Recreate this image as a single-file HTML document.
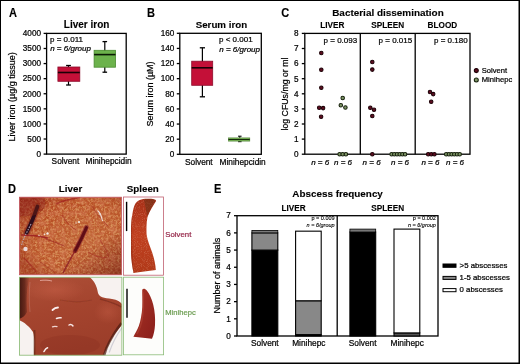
<!DOCTYPE html>
<html><head><meta charset="utf-8"><style>
html,body{margin:0;padding:0;background:#fff;}
body{width:520px;height:364px;overflow:hidden;font-family:"Liberation Sans", sans-serif;}
svg{display:block;will-change:transform;}
</style></head><body>
<svg width="520" height="364" viewBox="0 0 520 364" font-family='"Liberation Sans", sans-serif'><defs>
<linearGradient id="liv1" x1="0" y1="0" x2="0.7" y2="1">
<stop offset="0" stop-color="#a8361a"/><stop offset="0.3" stop-color="#b84e24"/><stop offset="0.7" stop-color="#bc582c"/><stop offset="1" stop-color="#ae4a26"/>
</linearGradient>
<radialGradient id="liv1b" cx="0.6" cy="0.5" r="0.65">
<stop offset="0" stop-color="#c88050" stop-opacity="0.25"/><stop offset="0.65" stop-color="#c06838" stop-opacity="0"/><stop offset="1" stop-color="#8a2010" stop-opacity="0.4"/>
</radialGradient>
<linearGradient id="liv2" x1="0" y1="0" x2="0.3" y2="1">
<stop offset="0" stop-color="#ae5038"/><stop offset="0.5" stop-color="#a4442e"/><stop offset="1" stop-color="#9c3e2a"/>
</linearGradient>
<clipPath id="clipL1"><rect x="19.5" y="197.2" width="102" height="77.6"/></clipPath>
<clipPath id="clipL2"><rect x="19.5" y="277.2" width="102.4" height="78"/></clipPath>
<clipPath id="clipS1"><path d="M133.5 272.9 C132 265 131 258 131 252 C131 244 131 235 131 227 C131.3 222 131.6 218 132.3 214.8 C133 210 133.8 207 134.8 204.8 C136 202 137.8 200.5 139.7 199.9 C142 199 144.5 198.7 147 198.7 C150 198.7 152.5 198.8 154.6 199.4 C156 199.8 156.3 200.5 155.8 201.5 C153 206 149.5 211 147.5 217 C146.5 222 146.3 229 146.6 234.5 C147.5 241 150 246 152 252 C154 258 155.5 264 155.8 270 C148 271 140 272 133.5 272.9 Z"/></clipPath>
<filter id="grain" x="0" y="0" width="100%" height="100%"><feTurbulence type="fractalNoise" baseFrequency="0.4" numOctaves="3" seed="3"/><feColorMatrix type="matrix" values="0 0 0 0 0.9  0 0 0 0 0.58  0 0 0 0 0.28  0 0 0 2.4 -1.1"/></filter>
<filter id="soft" x="-20%" y="-20%" width="140%" height="140%"><feGaussianBlur stdDeviation="0.45"/></filter>
<filter id="soft2" x="-20%" y="-20%" width="140%" height="140%"><feGaussianBlur stdDeviation="0.65"/></filter>
<filter id="blotch" x="0" y="0" width="100%" height="100%"><feTurbulence type="fractalNoise" baseFrequency="0.18" numOctaves="3" seed="5"/><feColorMatrix type="matrix" values="0 0 0 0 0.66  0 0 0 0 0.2  0 0 0 0 0.1  0 0 0 4 -1.7"/></filter>
<filter id="mottleT" x="0" y="0" width="100%" height="100%"><feTurbulence type="fractalNoise" baseFrequency="0.45" numOctaves="3" seed="21"/><feColorMatrix type="matrix" values="0 0 0 0 0.86  0 0 0 0 0.54  0 0 0 0 0.22  0 0 0 3.2 -1.35"/></filter>
<filter id="grainD" x="0" y="0" width="100%" height="100%"><feTurbulence type="fractalNoise" baseFrequency="0.45" numOctaves="2" seed="11"/><feColorMatrix type="matrix" values="0 0 0 0 0.62  0 0 0 0 0.18  0 0 0 0 0.12  0 0 0 -1.8 0.95"/></filter>
<filter id="grain2" x="0" y="0" width="100%" height="100%"><feTurbulence type="fractalNoise" baseFrequency="1.1" numOctaves="2" seed="7"/><feColorMatrix type="matrix" values="0 0 0 0 0.9  0 0 0 0 0.55  0 0 0 0 0.38  0 0 0 2.5 -1.2"/></filter>
<linearGradient id="ldark" x1="0" y1="0" x2="1" y2="0"><stop offset="0" stop-color="#3a140e" stop-opacity="0.95"/><stop offset="0.5" stop-color="#4a1a12" stop-opacity="0.7"/><stop offset="1" stop-color="#5a2218" stop-opacity="0"/></linearGradient>
<radialGradient id="llight"><stop offset="0" stop-color="#c86048" stop-opacity="0.5"/><stop offset="1" stop-color="#c86048" stop-opacity="0"/></radialGradient>
<linearGradient id="liv1c" x1="0.3" y1="0.3" x2="1" y2="1"><stop offset="0.55" stop-color="#6a2014" stop-opacity="0"/><stop offset="1" stop-color="#6a2014" stop-opacity="0.45"/></linearGradient>
<linearGradient id="spl2" x1="0" y1="0" x2="1" y2="1"><stop offset="0" stop-color="#a83426"/><stop offset="1" stop-color="#8a1e1a"/></linearGradient>
<linearGradient id="spl1" x1="0" y1="0" x2="0" y2="1">
<stop offset="0" stop-color="#a83018"/><stop offset="0.5" stop-color="#c04020"/><stop offset="1" stop-color="#b03818"/>
</linearGradient>
</defs>
<text x="0" y="0" font-size="11.4" font-weight="bold" stroke="#000" stroke-width="0.12" transform="translate(9.0,16.8) scale(0.97,1.1)">A</text>
<text x="86.6" y="28.0" font-size="10" font-weight="bold" text-anchor="middle" stroke="#000" stroke-width="0.12">Liver iron</text>
<rect x="46.6" y="33.4" width="79.6" height="120.7" fill="none" stroke="#000" stroke-width="1.3"/>
<line x1="43.6" y1="154.1" x2="46.6" y2="154.1" stroke="#000" stroke-width="1.3"/>
<text x="41.0" y="156.9" font-size="8.2" text-anchor="end" stroke="#000" stroke-width="0.22">0</text>
<line x1="43.6" y1="139.0125" x2="46.6" y2="139.0125" stroke="#000" stroke-width="1.3"/>
<text x="41.0" y="141.8125" font-size="8.2" text-anchor="end" stroke="#000" stroke-width="0.22">500</text>
<line x1="43.6" y1="123.925" x2="46.6" y2="123.925" stroke="#000" stroke-width="1.3"/>
<text x="41.0" y="126.725" font-size="8.2" text-anchor="end" stroke="#000" stroke-width="0.22">1000</text>
<line x1="43.6" y1="108.8375" x2="46.6" y2="108.8375" stroke="#000" stroke-width="1.3"/>
<text x="41.0" y="111.6375" font-size="8.2" text-anchor="end" stroke="#000" stroke-width="0.22">1500</text>
<line x1="43.6" y1="93.75" x2="46.6" y2="93.75" stroke="#000" stroke-width="1.3"/>
<text x="41.0" y="96.55" font-size="8.2" text-anchor="end" stroke="#000" stroke-width="0.22">2000</text>
<line x1="43.6" y1="78.6625" x2="46.6" y2="78.6625" stroke="#000" stroke-width="1.3"/>
<text x="41.0" y="81.46249999999999" font-size="8.2" text-anchor="end" stroke="#000" stroke-width="0.22">2500</text>
<line x1="43.6" y1="63.575" x2="46.6" y2="63.575" stroke="#000" stroke-width="1.3"/>
<text x="41.0" y="66.375" font-size="8.2" text-anchor="end" stroke="#000" stroke-width="0.22">3000</text>
<line x1="43.6" y1="48.48750000000001" x2="46.6" y2="48.48750000000001" stroke="#000" stroke-width="1.3"/>
<text x="41.0" y="51.28750000000001" font-size="8.2" text-anchor="end" stroke="#000" stroke-width="0.22">3500</text>
<line x1="43.6" y1="33.400000000000006" x2="46.6" y2="33.400000000000006" stroke="#000" stroke-width="1.3"/>
<text x="41.0" y="36.2" font-size="8.2" text-anchor="end" stroke="#000" stroke-width="0.22">4000</text>
<text x="0" y="0" font-size="9" stroke="#000" stroke-width="0.22" transform="translate(15.0,141.4) rotate(-90)">Liver iron (&#181;g/g tissue)</text>
<text x="50" y="41.8" font-size="8" stroke="#000" stroke-width="0.22">p = 0.011</text>
<text x="50.2" y="51.4" font-size="8" font-style="italic" stroke="#000" stroke-width="0.22">n = 6/group</text>
<line x1="68.5" y1="65.5" x2="68.5" y2="85" stroke="#000" stroke-width="1.2"/>
<line x1="66.1" y1="65.5" x2="70.9" y2="65.5" stroke="#000" stroke-width="1.3"/>
<line x1="66.1" y1="85" x2="70.9" y2="85" stroke="#000" stroke-width="1.3"/>
<rect x="57.9" y="67.0" width="21.9" height="14.3" fill="#c41038" stroke="#8e0c2c" stroke-width="0.8"/>
<line x1="57.9" y1="72.5" x2="79.8" y2="72.5" stroke="#1a0006" stroke-width="1.6"/>
<line x1="104.8" y1="41.6" x2="104.8" y2="72.2" stroke="#000" stroke-width="1.2"/>
<line x1="102.5" y1="41.6" x2="107.1" y2="41.6" stroke="#000" stroke-width="1.3"/>
<line x1="102.5" y1="72.2" x2="107.1" y2="72.2" stroke="#000" stroke-width="1.3"/>
<rect x="94.1" y="50.3" width="21.4" height="16.9" fill="#6cb24c" stroke="#4a8a30" stroke-width="0.8"/>
<line x1="94.1" y1="54.6" x2="115.5" y2="54.6" stroke="#0a1a04" stroke-width="1.6"/>
<text x="51.6" y="164.4" font-size="8.3" stroke="#000" stroke-width="0.22">Solvent</text>
<text x="85.5" y="164.4" font-size="8.3" stroke="#000" stroke-width="0.22">Minihepcidin</text>
<text x="0" y="0" font-size="11.4" font-weight="bold" stroke="#000" stroke-width="0.12" transform="translate(147.0,16.8) scale(0.97,1.1)">B</text>
<text x="221.4" y="27.9" font-size="9.75" font-weight="bold" text-anchor="middle" stroke="#000" stroke-width="0.12">Serum iron</text>
<rect x="179.8" y="33.3" width="81.5" height="121.0" fill="none" stroke="#000" stroke-width="1.3"/>
<line x1="176.8" y1="154.3" x2="179.8" y2="154.3" stroke="#000" stroke-width="1.3"/>
<text x="174.4" y="157.10000000000002" font-size="8.2" text-anchor="end" stroke="#000" stroke-width="0.22">0</text>
<line x1="176.8" y1="139.175" x2="179.8" y2="139.175" stroke="#000" stroke-width="1.3"/>
<text x="174.4" y="141.97500000000002" font-size="8.2" text-anchor="end" stroke="#000" stroke-width="0.22">20</text>
<line x1="176.8" y1="124.05000000000001" x2="179.8" y2="124.05000000000001" stroke="#000" stroke-width="1.3"/>
<text x="174.4" y="126.85000000000001" font-size="8.2" text-anchor="end" stroke="#000" stroke-width="0.22">40</text>
<line x1="176.8" y1="108.92500000000001" x2="179.8" y2="108.92500000000001" stroke="#000" stroke-width="1.3"/>
<text x="174.4" y="111.72500000000001" font-size="8.2" text-anchor="end" stroke="#000" stroke-width="0.22">60</text>
<line x1="176.8" y1="93.80000000000001" x2="179.8" y2="93.80000000000001" stroke="#000" stroke-width="1.3"/>
<text x="174.4" y="96.60000000000001" font-size="8.2" text-anchor="end" stroke="#000" stroke-width="0.22">80</text>
<line x1="176.8" y1="78.675" x2="179.8" y2="78.675" stroke="#000" stroke-width="1.3"/>
<text x="174.4" y="81.475" font-size="8.2" text-anchor="end" stroke="#000" stroke-width="0.22">100</text>
<line x1="176.8" y1="63.55" x2="179.8" y2="63.55" stroke="#000" stroke-width="1.3"/>
<text x="174.4" y="66.35" font-size="8.2" text-anchor="end" stroke="#000" stroke-width="0.22">120</text>
<line x1="176.8" y1="48.425" x2="179.8" y2="48.425" stroke="#000" stroke-width="1.3"/>
<text x="174.4" y="51.224999999999994" font-size="8.2" text-anchor="end" stroke="#000" stroke-width="0.22">140</text>
<line x1="176.8" y1="33.3" x2="179.8" y2="33.3" stroke="#000" stroke-width="1.3"/>
<text x="174.4" y="36.099999999999994" font-size="8.2" text-anchor="end" stroke="#000" stroke-width="0.22">160</text>
<text x="0" y="0" font-size="9" stroke="#000" stroke-width="0.22" transform="translate(153.2,126.6) rotate(-90)">Serum iron (&#181;M)</text>
<text x="219" y="42.0" font-size="8" stroke="#000" stroke-width="0.22">p &lt; 0.001</text>
<text x="219.3" y="51.6" font-size="8" font-style="italic" stroke="#000" stroke-width="0.22">n = 6/group</text>
<line x1="202.4" y1="47.8" x2="202.4" y2="96.8" stroke="#000" stroke-width="1.2"/>
<line x1="199.8" y1="47.8" x2="205.0" y2="47.8" stroke="#000" stroke-width="1.3"/>
<line x1="199.8" y1="96.8" x2="205.0" y2="96.8" stroke="#000" stroke-width="1.3"/>
<rect x="191.7" y="61.2" width="21.0" height="24.1" fill="#c41038" stroke="#8e0c2c" stroke-width="0.8"/>
<line x1="191.7" y1="67.8" x2="212.7" y2="67.8" stroke="#1a0006" stroke-width="1.6"/>
<line x1="239.8" y1="136.2" x2="239.8" y2="141.7" stroke="#000" stroke-width="1.0"/>
<line x1="238.0" y1="136.2" x2="241.6" y2="136.2" stroke="#000" stroke-width="1.0"/>
<line x1="238.0" y1="141.7" x2="241.6" y2="141.7" stroke="#000" stroke-width="1.0"/>
<rect x="228.4" y="137.9" width="21.4" height="3.2" fill="#7cbc5a" stroke="#4a7a30" stroke-width="0.6"/>
<line x1="228.4" y1="139.5" x2="249.8" y2="139.5" stroke="#142a0a" stroke-width="1.1"/>
<text x="185.0" y="164.6" font-size="8.3" stroke="#000" stroke-width="0.22">Solvent</text>
<text x="219.6" y="164.6" font-size="8.3" stroke="#000" stroke-width="0.22">Minihepcidin</text>
<text x="0" y="0" font-size="11.4" font-weight="bold" stroke="#000" stroke-width="0.12" transform="translate(281.2,16.8) scale(0.97,1.1)">C</text>
<text x="332.2" y="15.6" font-size="9.95" font-weight="bold" stroke="#000" stroke-width="0.12">Bacterial dissemination</text>
<text x="332.4" y="28.3" font-size="8.2" font-weight="bold" text-anchor="middle" stroke="#000" stroke-width="0.12">LIVER</text>
<text x="387.7" y="28.3" font-size="8.2" font-weight="bold" text-anchor="middle" stroke="#000" stroke-width="0.12">SPLEEN</text>
<text x="442.4" y="28.3" font-size="8.2" font-weight="bold" text-anchor="middle" stroke="#000" stroke-width="0.12">BLOOD</text>
<rect x="304.8" y="33.4" width="165.2" height="120.79999999999998" fill="none" stroke="#000" stroke-width="1.3"/>
<line x1="360.3" y1="33.4" x2="360.3" y2="154.2" stroke="#000" stroke-width="1.3"/>
<line x1="415.2" y1="33.4" x2="415.2" y2="154.2" stroke="#000" stroke-width="1.3"/>
<line x1="301.8" y1="154.2" x2="304.8" y2="154.2" stroke="#000" stroke-width="1.3"/>
<text x="298.6" y="157.0" font-size="8.2" text-anchor="end" stroke="#000" stroke-width="0.22">0</text>
<line x1="301.8" y1="139.1" x2="304.8" y2="139.1" stroke="#000" stroke-width="1.3"/>
<text x="298.6" y="141.9" font-size="8.2" text-anchor="end" stroke="#000" stroke-width="0.22">1</text>
<line x1="301.8" y1="124.0" x2="304.8" y2="124.0" stroke="#000" stroke-width="1.3"/>
<text x="298.6" y="126.8" font-size="8.2" text-anchor="end" stroke="#000" stroke-width="0.22">2</text>
<line x1="301.8" y1="108.89999999999999" x2="304.8" y2="108.89999999999999" stroke="#000" stroke-width="1.3"/>
<text x="298.6" y="111.69999999999999" font-size="8.2" text-anchor="end" stroke="#000" stroke-width="0.22">3</text>
<line x1="301.8" y1="93.8" x2="304.8" y2="93.8" stroke="#000" stroke-width="1.3"/>
<text x="298.6" y="96.6" font-size="8.2" text-anchor="end" stroke="#000" stroke-width="0.22">4</text>
<line x1="301.8" y1="78.7" x2="304.8" y2="78.7" stroke="#000" stroke-width="1.3"/>
<text x="298.6" y="81.5" font-size="8.2" text-anchor="end" stroke="#000" stroke-width="0.22">5</text>
<line x1="301.8" y1="63.599999999999994" x2="304.8" y2="63.599999999999994" stroke="#000" stroke-width="1.3"/>
<text x="298.6" y="66.39999999999999" font-size="8.2" text-anchor="end" stroke="#000" stroke-width="0.22">6</text>
<line x1="301.8" y1="48.5" x2="304.8" y2="48.5" stroke="#000" stroke-width="1.3"/>
<text x="298.6" y="51.3" font-size="8.2" text-anchor="end" stroke="#000" stroke-width="0.22">7</text>
<line x1="301.8" y1="33.400000000000006" x2="304.8" y2="33.400000000000006" stroke="#000" stroke-width="1.3"/>
<text x="298.6" y="36.2" font-size="8.2" text-anchor="end" stroke="#000" stroke-width="0.22">8</text>
<text x="0" y="0" font-size="8.75" stroke="#000" stroke-width="0.22" transform="translate(287.9,130.5) rotate(-90)">log CFUs/mg or ml</text>
<text x="357.2" y="42.5" font-size="8" text-anchor="end" stroke="#000" stroke-width="0.22">p = 0.093</text>
<text x="412.2" y="42.6" font-size="8" text-anchor="end" stroke="#000" stroke-width="0.22">p = 0.015</text>
<text x="467.6" y="42.6" font-size="8" text-anchor="end" stroke="#000" stroke-width="0.22">p = 0.180</text>
<circle cx="321.3" cy="52.9" r="1.75" fill="#5e0c20" stroke="#1c0006" stroke-width="1.05"/>
<circle cx="321.3" cy="69.8" r="1.75" fill="#5e0c20" stroke="#1c0006" stroke-width="1.05"/>
<circle cx="321.3" cy="87.7" r="1.75" fill="#5e0c20" stroke="#1c0006" stroke-width="1.05"/>
<circle cx="319.2" cy="107.8" r="1.75" fill="#5e0c20" stroke="#1c0006" stroke-width="1.05"/>
<circle cx="323.1" cy="108.1" r="1.75" fill="#5e0c20" stroke="#1c0006" stroke-width="1.05"/>
<circle cx="321.1" cy="116.7" r="1.75" fill="#5e0c20" stroke="#1c0006" stroke-width="1.05"/>
<circle cx="342.7" cy="98.0" r="1.75" fill="#7e9666" stroke="#16200c" stroke-width="1.05"/>
<circle cx="340.8" cy="105.2" r="1.75" fill="#7e9666" stroke="#16200c" stroke-width="1.05"/>
<circle cx="345.4" cy="107.5" r="1.75" fill="#7e9666" stroke="#16200c" stroke-width="1.05"/>
<circle cx="339.6" cy="154.2" r="1.75" fill="#7e9666" stroke="#16200c" stroke-width="1.05"/>
<circle cx="342.7" cy="154.2" r="1.75" fill="#7e9666" stroke="#16200c" stroke-width="1.05"/>
<circle cx="345.9" cy="154.2" r="1.75" fill="#7e9666" stroke="#16200c" stroke-width="1.05"/>
<circle cx="372.3" cy="61.9" r="1.75" fill="#5e0c20" stroke="#1c0006" stroke-width="1.05"/>
<circle cx="372.3" cy="69.6" r="1.75" fill="#5e0c20" stroke="#1c0006" stroke-width="1.05"/>
<circle cx="370.3" cy="107.7" r="1.75" fill="#5e0c20" stroke="#1c0006" stroke-width="1.05"/>
<circle cx="374.0" cy="109.7" r="1.75" fill="#5e0c20" stroke="#1c0006" stroke-width="1.05"/>
<circle cx="372.3" cy="115.9" r="1.75" fill="#5e0c20" stroke="#1c0006" stroke-width="1.05"/>
<circle cx="372.3" cy="154.2" r="1.75" fill="#5e0c20" stroke="#1c0006" stroke-width="1.05"/>
<circle cx="391.6" cy="154.2" r="1.75" fill="#7e9666" stroke="#16200c" stroke-width="1.05"/>
<circle cx="394.3" cy="154.2" r="1.75" fill="#7e9666" stroke="#16200c" stroke-width="1.05"/>
<circle cx="397.0" cy="154.2" r="1.75" fill="#7e9666" stroke="#16200c" stroke-width="1.05"/>
<circle cx="399.70000000000005" cy="154.2" r="1.75" fill="#7e9666" stroke="#16200c" stroke-width="1.05"/>
<circle cx="402.40000000000003" cy="154.2" r="1.75" fill="#7e9666" stroke="#16200c" stroke-width="1.05"/>
<circle cx="405.1" cy="154.2" r="1.75" fill="#7e9666" stroke="#16200c" stroke-width="1.05"/>
<circle cx="430.0" cy="91.9" r="1.75" fill="#5e0c20" stroke="#1c0006" stroke-width="1.05"/>
<circle cx="433.2" cy="94.1" r="1.75" fill="#5e0c20" stroke="#1c0006" stroke-width="1.05"/>
<circle cx="431.2" cy="101.8" r="1.75" fill="#5e0c20" stroke="#1c0006" stroke-width="1.05"/>
<circle cx="428.2" cy="154.2" r="1.75" fill="#5e0c20" stroke="#1c0006" stroke-width="1.05"/>
<circle cx="431.3" cy="154.2" r="1.75" fill="#5e0c20" stroke="#1c0006" stroke-width="1.05"/>
<circle cx="434.4" cy="154.2" r="1.75" fill="#5e0c20" stroke="#1c0006" stroke-width="1.05"/>
<circle cx="446.2" cy="154.2" r="1.75" fill="#7e9666" stroke="#16200c" stroke-width="1.05"/>
<circle cx="448.9" cy="154.2" r="1.75" fill="#7e9666" stroke="#16200c" stroke-width="1.05"/>
<circle cx="451.59999999999997" cy="154.2" r="1.75" fill="#7e9666" stroke="#16200c" stroke-width="1.05"/>
<circle cx="454.3" cy="154.2" r="1.75" fill="#7e9666" stroke="#16200c" stroke-width="1.05"/>
<circle cx="457.0" cy="154.2" r="1.75" fill="#7e9666" stroke="#16200c" stroke-width="1.05"/>
<circle cx="459.7" cy="154.2" r="1.75" fill="#7e9666" stroke="#16200c" stroke-width="1.05"/>
<text x="311.2" y="165.2" font-size="8" font-style="italic" stroke="#000" stroke-width="0.22">n = 6</text>
<text x="334.0" y="165.2" font-size="8" font-style="italic" stroke="#000" stroke-width="0.22">n = 6</text>
<text x="362.6" y="165.2" font-size="8" font-style="italic" stroke="#000" stroke-width="0.22">n = 6</text>
<text x="391.0" y="165.2" font-size="8" font-style="italic" stroke="#000" stroke-width="0.22">n = 6</text>
<text x="421.4" y="165.2" font-size="8" font-style="italic" stroke="#000" stroke-width="0.22">n = 6</text>
<text x="446.0" y="165.2" font-size="8" font-style="italic" stroke="#000" stroke-width="0.22">n = 6</text>
<circle cx="476.3" cy="70.6" r="2.0" fill="#5e0c20" stroke="#1c0006" stroke-width="1.05"/>
<circle cx="476.3" cy="80.0" r="2.0" fill="#7e9666" stroke="#16200c" stroke-width="1.05"/>
<text x="481.8" y="73.0" font-size="7.6" stroke="#000" stroke-width="0.22">Solvent</text>
<text x="481.8" y="82.3" font-size="7.6" stroke="#000" stroke-width="0.22">Minihepc</text>
<text x="0" y="0" font-size="11.4" font-weight="bold" stroke="#000" stroke-width="0.12" transform="translate(7.9,192.5) scale(0.97,1.1)">D</text>
<text x="70.5" y="192.4" font-size="9.8" font-weight="bold" text-anchor="middle" stroke="#000" stroke-width="0.12">Liver</text>
<text x="142.8" y="192.4" font-size="9.8" font-weight="bold" text-anchor="middle" stroke="#000" stroke-width="0.12">Spleen</text>
<g clip-path="url(#clipL1)">
<rect x="19.5" y="197.2" width="102" height="77.6" fill="url(#liv1)"/>
<rect x="19.5" y="197.2" width="102" height="77.6" filter="url(#mottleT)" opacity="0.55"/>
<rect x="19.5" y="197.2" width="102" height="77.6" filter="url(#blotch)" opacity="0.45"/>
<rect x="19.5" y="197.2" width="102" height="77.6" filter="url(#grain)" opacity="0.22"/>
<rect x="19.5" y="197.2" width="102" height="77.6" fill="url(#liv1b)"/>
<rect x="19.5" y="197.2" width="102" height="77.6" fill="url(#liv1c)"/>
<g filter="url(#soft2)">
<path d="M37.5 206 C35 214 31 224 26.5 233" stroke="#7a1a18" stroke-width="6.5" fill="none" stroke-linecap="round" opacity="0.45"/>
<path d="M37.5 206.5 C35 214 31 224 26.5 233" stroke="#2e0e1a" stroke-width="3.8" fill="none" stroke-linecap="round"/>
<path d="M86.5 227 C83.5 234 80 242 75 251" stroke="#7a1020" stroke-width="4.5" fill="none" stroke-linecap="round" opacity="0.5"/>
<path d="M86.5 227.5 C83.5 234 80 242 75 251" stroke="#600818" stroke-width="3.0" fill="none" stroke-linecap="round"/>
<path d="M75 251 C71 258 67 265 63 273" stroke="#8a1a22" stroke-width="1.5" fill="none" opacity="0.8"/>
<path d="M21 235 C30 235 40 236 48 238" stroke="#9a1a22" stroke-width="1.5" fill="none" opacity="0.8"/>
<path d="M46 239 C52 241 58 243 64 246" stroke="#9a2222" stroke-width="1.1" fill="none" opacity="0.6"/>
<path d="M56 204 C62 201 70 199 80 197.5" stroke="#a02020" stroke-width="1.3" fill="none" opacity="0.7"/>
<path d="M92 206 C96 212 100 219 108 226" stroke="#a02a28" stroke-width="1.0" fill="none" opacity="0.5"/>
<path d="M100 240 C104 246 108 252 110 262" stroke="#a02a28" stroke-width="1.0" fill="none" opacity="0.5"/>
<path d="M40 262 C46 266 52 270 56 274" stroke="#9a2a20" stroke-width="1.0" fill="none" opacity="0.5"/>
<path d="M62 215 C66 222 70 226 76 230" stroke="#a02020" stroke-width="1.0" fill="none" opacity="0.55"/>
<path d="M88 252 C94 256 100 258 108 258" stroke="#a02020" stroke-width="1.0" fill="none" opacity="0.5"/>
<path d="M24 258 C28 262 32 266 36 272" stroke="#9a1a1a" stroke-width="1.2" fill="none" opacity="0.5"/>
<ellipse cx="24" cy="203" rx="22" ry="14" fill="#8a2010" opacity="0.35"/>
</g>
<g filter="url(#soft)">
<path d="M31 224 C28.5 229 26.5 233 25 236 C23.5 239 22.5 242 21.5 245" stroke="#b8b0c0" stroke-width="1.1" fill="none" stroke-dasharray="1.5 1.2" opacity="0.85"/>
<circle cx="25.5" cy="249" r="2.2" fill="#efe4ea" opacity="0.9"/>
<circle cx="47.5" cy="233.5" r="1.2" fill="#f6eee6"/><circle cx="44.5" cy="234.3" r="0.9" fill="#f0e0d8"/>
<circle cx="39" cy="235.5" r="0.8" fill="#f0e0d8" opacity="0.8"/>
<circle cx="79" cy="222" r="1.1" fill="#f6eee6"/><circle cx="76" cy="223" r="0.7" fill="#f0e0d8"/>
<path d="M97.5 210.5 C100 212.5 101.5 216 102.5 221" stroke="#f4ecec" stroke-width="1.2" fill="none" opacity="0.9"/>
<circle cx="100" cy="214" r="1.2" fill="#e8d8d8" opacity="0.6"/>
</g>
</g>
<rect x="19.5" y="197.2" width="102" height="77.6" fill="none" stroke="#c0505a" stroke-width="0.8"/>
<rect x="19.5" y="277.2" width="102.4" height="78" fill="#f7f2f0"/>
<g clip-path="url(#clipL2)">
<path d="M19 276 L88 276 C94 280 97 286 98 293 C99 297 104 298 112 299 C118 300 121 302 122.5 305 L122.5 324 C118 330 112 336 108 346 C106 350 104 354 103 356 L34 356 C34 346 35 338 33 332 C30 327 24 322 19 320 Z" fill="url(#liv2)"/>
<path d="M19 276 L30 276 C27 285 26 298 27 312 C25 316 22 318 19 319 Z" fill="url(#ldark)"/>
<ellipse cx="55" cy="290" rx="30" ry="12" fill="url(#llight)"/>
<ellipse cx="108" cy="312" rx="14" ry="12" fill="url(#llight)" opacity="0.8"/>
<ellipse cx="70" cy="345" rx="30" ry="10" fill="#7a2418" opacity="0.18"/>
<g filter="url(#soft2)">
<path d="M100 299 C107 301 115 303 121.5 307" stroke="#6a2418" stroke-width="1.5" fill="none" opacity="0.5"/>
<path d="M121.5 323 C116 330 111 338 106.5 348 C105.5 351 104.5 354 104 356" stroke="#4a1810" stroke-width="2.4" fill="none" opacity="0.7"/>
<path d="M34.5 330 C34.5 340 34.5 348 34.5 356" stroke="#5a2016" stroke-width="1.8" fill="none" opacity="0.55"/>
<path d="M60 300 C70 302 80 303 92 300" stroke="#7a2a1c" stroke-width="1.2" fill="none" opacity="0.35"/>
<path d="M30 282 C29 292 29 302 30 312" stroke="#d8a8a0" stroke-width="0.8" fill="none" opacity="0.35"/>
</g>
<path d="M122.5 325 C117 332 112 340 108 352" stroke="#b8b8c4" stroke-width="1.2" fill="none" opacity="0.6" transform="translate(1.2,0.5)"/>
<g filter="url(#soft)">
<path d="M52.5 310 C54 308.5 56 307.5 58 307.5" stroke="#fbefee" stroke-width="1.8" fill="none" stroke-linecap="round"/>
<path d="M56.5 318.5 C58 317.8 59.5 317.5 61 317.8" stroke="#fbefee" stroke-width="1.6" fill="none" stroke-linecap="round"/>
<path d="M52.5 326.8 C54 326.2 55.5 326.2 57 326.6" stroke="#f0d4d0" stroke-width="1.3" fill="none" stroke-linecap="round"/>
<path d="M69 325 C70.5 324 72 324.5 73 326" stroke="#f8e8e8" stroke-width="1.4" fill="none" stroke-linecap="round"/>
<path d="M44 351.5 C45 349.5 46 348.3 47.5 347.8" stroke="#fbefee" stroke-width="1.6" fill="none" stroke-linecap="round"/>
<path d="M40 280.5 C44 280 48 280 52 281" stroke="#e8b0a8" stroke-width="1" fill="none" opacity="0.8"/>
</g>
</g>
<rect x="19.5" y="277.2" width="102.4" height="78" fill="none" stroke="#86b870" stroke-width="0.8"/>
<rect x="123.5" y="197.0" width="40.0" height="78.2" fill="#fff" stroke="#c06070" stroke-width="0.8"/>
<rect x="123.4" y="277.2" width="40.2" height="77.6" fill="#fdfdfb" stroke="#8cbc7a" stroke-width="0.8"/>
<line x1="126.6" y1="201.8" x2="126.6" y2="231.1" stroke="#000" stroke-width="1.4"/>
<line x1="127.0" y1="288.7" x2="127.0" y2="317.8" stroke="#000" stroke-width="1.4"/>
<path d="M133.5 272.9 C132 265 131 258 131 252 C131 244 131 235 131 227 C131.3 222 131.6 218 132.3 214.8 C133 210 133.8 207 134.8 204.8 C136 202 137.8 200.5 139.7 199.9 C142 199 144.5 198.7 147 198.7 C150 198.7 152.5 198.8 154.6 199.4 C156 199.8 156.3 200.5 155.8 201.5 C153 206 149.5 211 147.5 217 C146.5 222 146.3 229 146.6 234.5 C147.5 241 150 246 152 252 C154 258 155.5 264 155.8 270 C148 271 140 272 133.5 272.9 Z" fill="url(#spl1)"/>
<g clip-path="url(#clipS1)"><rect x="130" y="197" width="28" height="76" filter="url(#grain2)" opacity="0.3"/>
<path d="M144 199.5 C149 198.5 154 198.5 155.5 200.5 C153 205 149 211 147.5 217 C146.5 212 145 206 144 199.5 Z" fill="#6a3018" opacity="0.55" filter="url(#soft)"/>
<path d="M131 205 C131 230 131 255 133 273" stroke="#8a2810" stroke-width="1.5" fill="none" opacity="0.5"/></g>
<path d="M142.2 289.8 C143.2 288.2 145 288.4 146.8 290.6 C149.5 294 151.8 299 153.3 305 C154.8 311 155.4 318 155 325 C154.7 330 153.8 335 152 338.8 C146 338.2 140 337.6 133.4 336.8 C135 333.5 137.2 330 138.8 326 C140.8 320.5 141.8 314 142.3 307 C142.6 300 142.2 294 142.2 289.8 Z" fill="url(#spl2)"/>
<path d="M143 292 C143.5 300 143.5 310 142 320 C141 326 139 330 137 334" stroke="#b84a3a" stroke-width="1.5" fill="none" opacity="0.45" filter="url(#soft)"/>
<text x="165.3" y="236.9" font-size="7.8" fill="#96284a" stroke="#96284a" stroke-width="0.22">Solvent</text>
<text x="165.3" y="315.3" font-size="7.6" fill="#6e9e54" stroke="#6e9e54" stroke-width="0.22">Minihepc</text>
<text x="0" y="0" font-size="11.4" font-weight="bold" stroke="#000" stroke-width="0.12" transform="translate(214.1,192.5) scale(0.97,1.1)">E</text>
<text x="337.6" y="197.3" font-size="9.9" font-weight="bold" text-anchor="middle" stroke="#000" stroke-width="0.12">Abscess frequency</text>
<text x="293.6" y="210.8" font-size="8.2" font-weight="bold" text-anchor="middle" stroke="#000" stroke-width="0.12">LIVER</text>
<text x="387.7" y="210.8" font-size="8.2" font-weight="bold" text-anchor="middle" stroke="#000" stroke-width="0.12">SPLEEN</text>
<rect x="237.0" y="215.7" width="201.0" height="120.30000000000001" fill="none" stroke="#000" stroke-width="1.3"/>
<line x1="337.2" y1="215.7" x2="337.2" y2="336.0" stroke="#000" stroke-width="1.3"/>
<line x1="234.0" y1="336.0" x2="237.0" y2="336.0" stroke="#000" stroke-width="1.3"/>
<text x="230.8" y="338.7" font-size="8.2" text-anchor="end" stroke="#000" stroke-width="0.22">0</text>
<line x1="234.0" y1="318.8142857142857" x2="237.0" y2="318.8142857142857" stroke="#000" stroke-width="1.3"/>
<text x="230.8" y="321.5142857142857" font-size="8.2" text-anchor="end" stroke="#000" stroke-width="0.22">1</text>
<line x1="234.0" y1="301.62857142857143" x2="237.0" y2="301.62857142857143" stroke="#000" stroke-width="1.3"/>
<text x="230.8" y="304.3285714285714" font-size="8.2" text-anchor="end" stroke="#000" stroke-width="0.22">2</text>
<line x1="234.0" y1="284.4428571428571" x2="237.0" y2="284.4428571428571" stroke="#000" stroke-width="1.3"/>
<text x="230.8" y="287.1428571428571" font-size="8.2" text-anchor="end" stroke="#000" stroke-width="0.22">3</text>
<line x1="234.0" y1="267.25714285714287" x2="237.0" y2="267.25714285714287" stroke="#000" stroke-width="1.3"/>
<text x="230.8" y="269.95714285714286" font-size="8.2" text-anchor="end" stroke="#000" stroke-width="0.22">4</text>
<line x1="234.0" y1="250.07142857142856" x2="237.0" y2="250.07142857142856" stroke="#000" stroke-width="1.3"/>
<text x="230.8" y="252.77142857142854" font-size="8.2" text-anchor="end" stroke="#000" stroke-width="0.22">5</text>
<line x1="234.0" y1="232.88571428571427" x2="237.0" y2="232.88571428571427" stroke="#000" stroke-width="1.3"/>
<text x="230.8" y="235.58571428571426" font-size="8.2" text-anchor="end" stroke="#000" stroke-width="0.22">6</text>
<line x1="234.0" y1="215.7" x2="237.0" y2="215.7" stroke="#000" stroke-width="1.3"/>
<text x="230.8" y="218.39999999999998" font-size="8.2" text-anchor="end" stroke="#000" stroke-width="0.22">7</text>
<text x="0" y="0" font-size="9" stroke="#000" stroke-width="0.22" transform="translate(220.4,313.4) rotate(-90)">Number of animals</text>
<rect x="251.9" y="250.07" width="25.9" height="85.93" fill="#000" stroke="#000" stroke-width="1.1"/>
<rect x="251.9" y="232.89" width="25.9" height="17.19" fill="#888" stroke="#000" stroke-width="1.1"/>
<rect x="251.9" y="230.48" width="25.9" height="2.41" fill="#7a7a7a" stroke="#000" stroke-width="0.8"/>
<rect x="295.6" y="334.63" width="25.6" height="1.37" fill="#000" stroke="#000" stroke-width="1.1"/>
<rect x="295.6" y="300.77" width="25.6" height="33.86" fill="#888" stroke="#000" stroke-width="1.1"/>
<rect x="295.6" y="231.17" width="25.6" height="69.60" fill="#fff" stroke="#000" stroke-width="1.1"/>
<rect x="349.9" y="232.03" width="25.8" height="103.97" fill="#000" stroke="#000" stroke-width="1.1"/>
<rect x="349.9" y="229.10" width="25.8" height="2.92" fill="#777" stroke="#000" stroke-width="0.8"/>
<rect x="394.0" y="332.91" width="25.8" height="3.09" fill="#555" stroke="#000" stroke-width="1.1"/>
<rect x="394.0" y="229.10" width="25.8" height="103.80" fill="#fff" stroke="#000" stroke-width="1.1"/>
<text x="334.6" y="220.2" font-size="5.5" text-anchor="end" stroke="#000" stroke-width="0.12">p = 0.009</text>
<text x="334.6" y="226.8" font-size="5.5" font-style="italic" text-anchor="end" stroke="#000" stroke-width="0.12">n = 6/group</text>
<text x="435.9" y="220.2" font-size="5.5" text-anchor="end" stroke="#000" stroke-width="0.12">p = 0.002</text>
<text x="435.9" y="226.8" font-size="5.5" font-style="italic" text-anchor="end" stroke="#000" stroke-width="0.12">n = 6/group</text>
<text x="251.0" y="345.6" font-size="8.3" stroke="#000" stroke-width="0.22">Solvent</text>
<text x="292.2" y="345.6" font-size="8.3" stroke="#000" stroke-width="0.22">Minihepc</text>
<text x="348.8" y="345.6" font-size="8.3" stroke="#000" stroke-width="0.22">Solvent</text>
<text x="390.6" y="345.6" font-size="8.3" stroke="#000" stroke-width="0.22">Minihepc</text>
<rect x="443" y="264" width="13" height="3.3" fill="#000" stroke="#000" stroke-width="1"/>
<rect x="443" y="276.4" width="13" height="3.0" fill="#888" stroke="#000" stroke-width="1"/>
<rect x="443" y="288.6" width="13" height="3.1" fill="#fff" stroke="#000" stroke-width="1"/>
<text x="459.6" y="267.6" font-size="7.8" stroke="#000" stroke-width="0.22">&gt;5 abscesses</text>
<text x="459.6" y="280.0" font-size="7.8" stroke="#000" stroke-width="0.22">1-5 abscesses</text>
<text x="459.6" y="292.4" font-size="7.8" stroke="#000" stroke-width="0.22">0 abscesses</text>
<rect x="0" y="0" width="520" height="1" fill="#000"/>
<rect x="0" y="0" width="1" height="364" fill="#000"/>
<rect x="518.5" y="0" width="1.5" height="364" fill="#000"/>
<rect x="0" y="362.5" width="520" height="1.5" fill="#000"/>
</svg>
</body></html>
